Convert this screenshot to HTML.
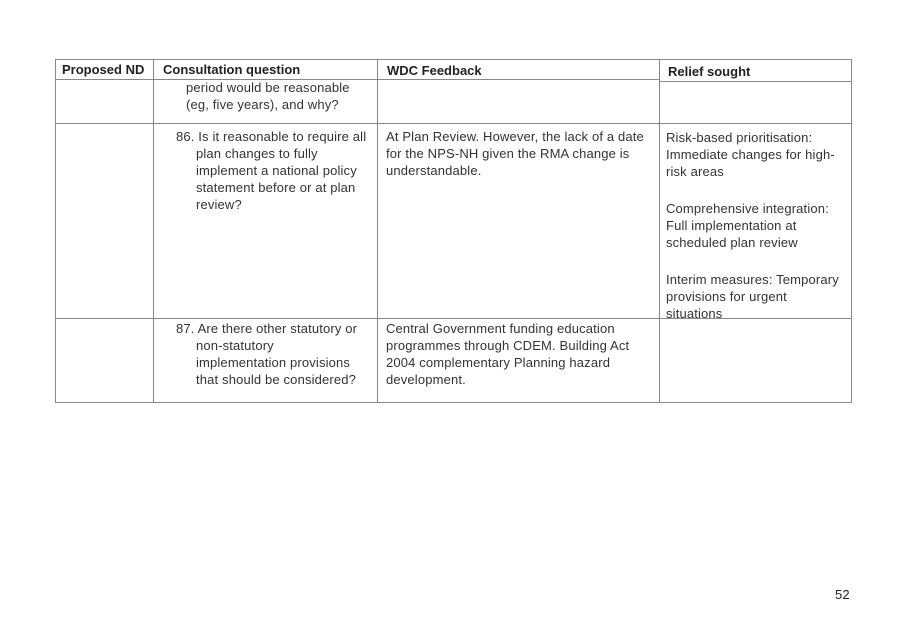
<!DOCTYPE html>
<html><head><style>
body{margin:0;width:907px;height:626px;background:#fff;position:relative;font-family:"Liberation Sans",sans-serif;color:#333;overflow:hidden}
.t{position:absolute;font-size:13px;line-height:17px;white-space:nowrap;letter-spacing:0.15px}
.b{font-weight:bold;color:#222;letter-spacing:0}
.h{position:absolute;height:1px;background:#888}
.v{position:absolute;width:1px;background:#888}
</style></head><body>
<div class="h" style="left:55px;top:59px;width:796px"></div>
<div class="h" style="left:55px;top:79px;width:604px"></div>
<div class="h" style="left:659px;top:81px;width:192px"></div>
<div class="h" style="left:55px;top:123px;width:796px"></div>
<div class="h" style="left:55px;top:318px;width:796px"></div>
<div class="h" style="left:55px;top:402px;width:796px"></div>
<div class="v" style="left:55px;top:59px;height:344px"></div>
<div class="v" style="left:153px;top:59px;height:344px"></div>
<div class="v" style="left:377px;top:59px;height:344px"></div>
<div class="v" style="left:659px;top:59px;height:344px"></div>
<div class="v" style="left:851px;top:59px;height:344px"></div>

<div class="t b" style="left:62px;top:61px">Proposed ND</div>
<div class="t b" style="left:163px;top:61px">Consultation question</div>
<div class="t b" style="left:387px;top:62px">WDC Feedback</div>
<div class="t b" style="left:668px;top:63px">Relief sought</div>

<div class="t" style="left:186px;top:79px">period would be reasonable<br>(eg, five years), and why?</div>

<div class="t" style="left:176px;top:128px">86. Is it reasonable to require all</div>
<div class="t" style="left:196px;top:145px">plan changes to fully<br>implement a national policy<br>statement before or at plan<br>review?</div>
<div class="t" style="left:386px;top:128px">At Plan Review. However, the lack of a date<br>for the NPS-NH given the RMA change is<br>understandable.</div>
<div class="t" style="left:666px;top:129px">Risk-based prioritisation:<br>Immediate changes for high-<br>risk areas</div>
<div class="t" style="left:666px;top:200px">Comprehensive integration:<br>Full implementation at<br>scheduled plan review</div>
<div class="t" style="left:666px;top:271px">Interim measures: Temporary<br>provisions for urgent<br>situations</div>

<div class="t" style="left:176px;top:320px">87. Are there other statutory or</div>
<div class="t" style="left:196px;top:337px">non-statutory<br>implementation provisions<br>that should be considered?</div>
<div class="t" style="left:386px;top:320px">Central Government funding education<br>programmes through CDEM. Building Act<br>2004 complementary Planning hazard<br>development.</div>

<div class="t" style="left:835px;top:586px;color:#222">52</div>
</body></html>
